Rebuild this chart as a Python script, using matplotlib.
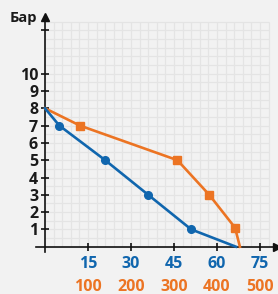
import matplotlib
matplotlib.use("Agg")
import matplotlib.pyplot as plt
from matplotlib.transforms import blended_transform_factory

# Data (x in blue-axis units; orange axis = blue * 100/15)
blue_x = [0, 5, 21, 36, 51, 66.6]
blue_y = [8, 7, 5, 3, 1, 0]
blue_marker_idx = [1, 2, 3, 4]
orange_x = [0, 12.2, 46.2, 57.3, 66.3, 68.0]
orange_y = [8, 7, 5, 3, 1.1, 0]
orange_marker_idx = [1, 2, 3, 4]
blue_ticks = [15, 30, 45, 60, 75]
orange_ticklabels = ["100", "200", "300", "400", "500"]
y_ticks = [1, 2, 3, 4, 5, 6, 7, 8, 9, 10]
y_label = "Бар"

BLUE = "#1066ae"
ORANGE = "#ec7423"
BG = "#f2f2f2"
GRID = "#e4e4e4"
FONT = ["Open Sans", "DejaVu Sans"]

fig = plt.figure(figsize=(2.78, 2.94), dpi=100, facecolor=BG)
ax = fig.add_axes([0.131, 0.1432, 0.866, 0.8003])
ax.set_facecolor(BG)
ax.set_xlim(-3, 81)
ax.set_ylim(-0.3, 13.3)

# grid
gx = [i * 3 for i in range(0, 27)]
gy = [i * 0.5 for i in range(0, 27)]
ax.vlines(gx, 0, 13, color=GRID, lw=0.9, zorder=0)
ax.hlines(gy, 0, 78, color=GRID, lw=0.9, zorder=0)

for s in ["top", "right"]:
    ax.spines[s].set_visible(False)
ax.spines["left"].set_position(("data", 0))
ax.spines["bottom"].set_position(("data", 0))
for s in ["left", "bottom"]:
    ax.spines[s].set_color("#111111")
    ax.spines[s].set_linewidth(1.2)
    ax.spines[s].set_zorder(3)

# arrows
ax.plot([0], [13.3], marker="^", color="#111111", markersize=6, clip_on=False, zorder=4)
ax.plot([81], [0], marker=">", color="#111111", markersize=6, clip_on=False, zorder=4)

ax.set_yticks(y_ticks + [12.5])
ax.set_yticklabels([str(v) for v in y_ticks] + [""])
ax.set_xticks(blue_ticks)
ax.set_xticklabels([str(v) for v in blue_ticks])
ax.tick_params(axis="y", direction="inout", length=6, width=1.2, color="#111111",
               pad=2, labelsize=11.5, labelcolor="#1a1a1a")
ax.tick_params(axis="x", direction="inout", length=6, width=1.2, color="#111111",
               pad=4, labelsize=11.5, labelcolor=BLUE)
for lab in ax.get_yticklabels() + ax.get_xticklabels():
    lab.set_fontfamily(FONT)
    lab.set_fontweight("bold")

trans = blended_transform_factory(ax.transData, fig.transFigure)
for xv, lab in zip(blue_ticks, orange_ticklabels):
    ax.text(xv, 1 - 287 / 294, lab, transform=trans, ha="center", va="center",
            fontsize=11.5, fontweight="bold", color=ORANGE, family=FONT)

fig.text(10 / 278, 1 - 18 / 294, y_label, ha="left", va="center", fontsize=10.5,
         fontweight="bold", color="#1a1a1a", family=FONT)

# lines
ax.plot(orange_x, orange_y, color=ORANGE, lw=1.9, zorder=5, clip_on=False)
ax.plot([orange_x[i] for i in orange_marker_idx], [orange_y[i] for i in orange_marker_idx],
        ls="none", marker="s", markersize=5.5, color=ORANGE, zorder=6, clip_on=False)
ax.plot(blue_x, blue_y, color=BLUE, lw=1.9, zorder=5, clip_on=False)
ax.plot([blue_x[i] for i in blue_marker_idx], [blue_y[i] for i in blue_marker_idx],
        ls="none", marker="o", markersize=5.5, color=BLUE, zorder=6, clip_on=False)

fig.savefig("out.png", dpi=100, facecolor=BG)
